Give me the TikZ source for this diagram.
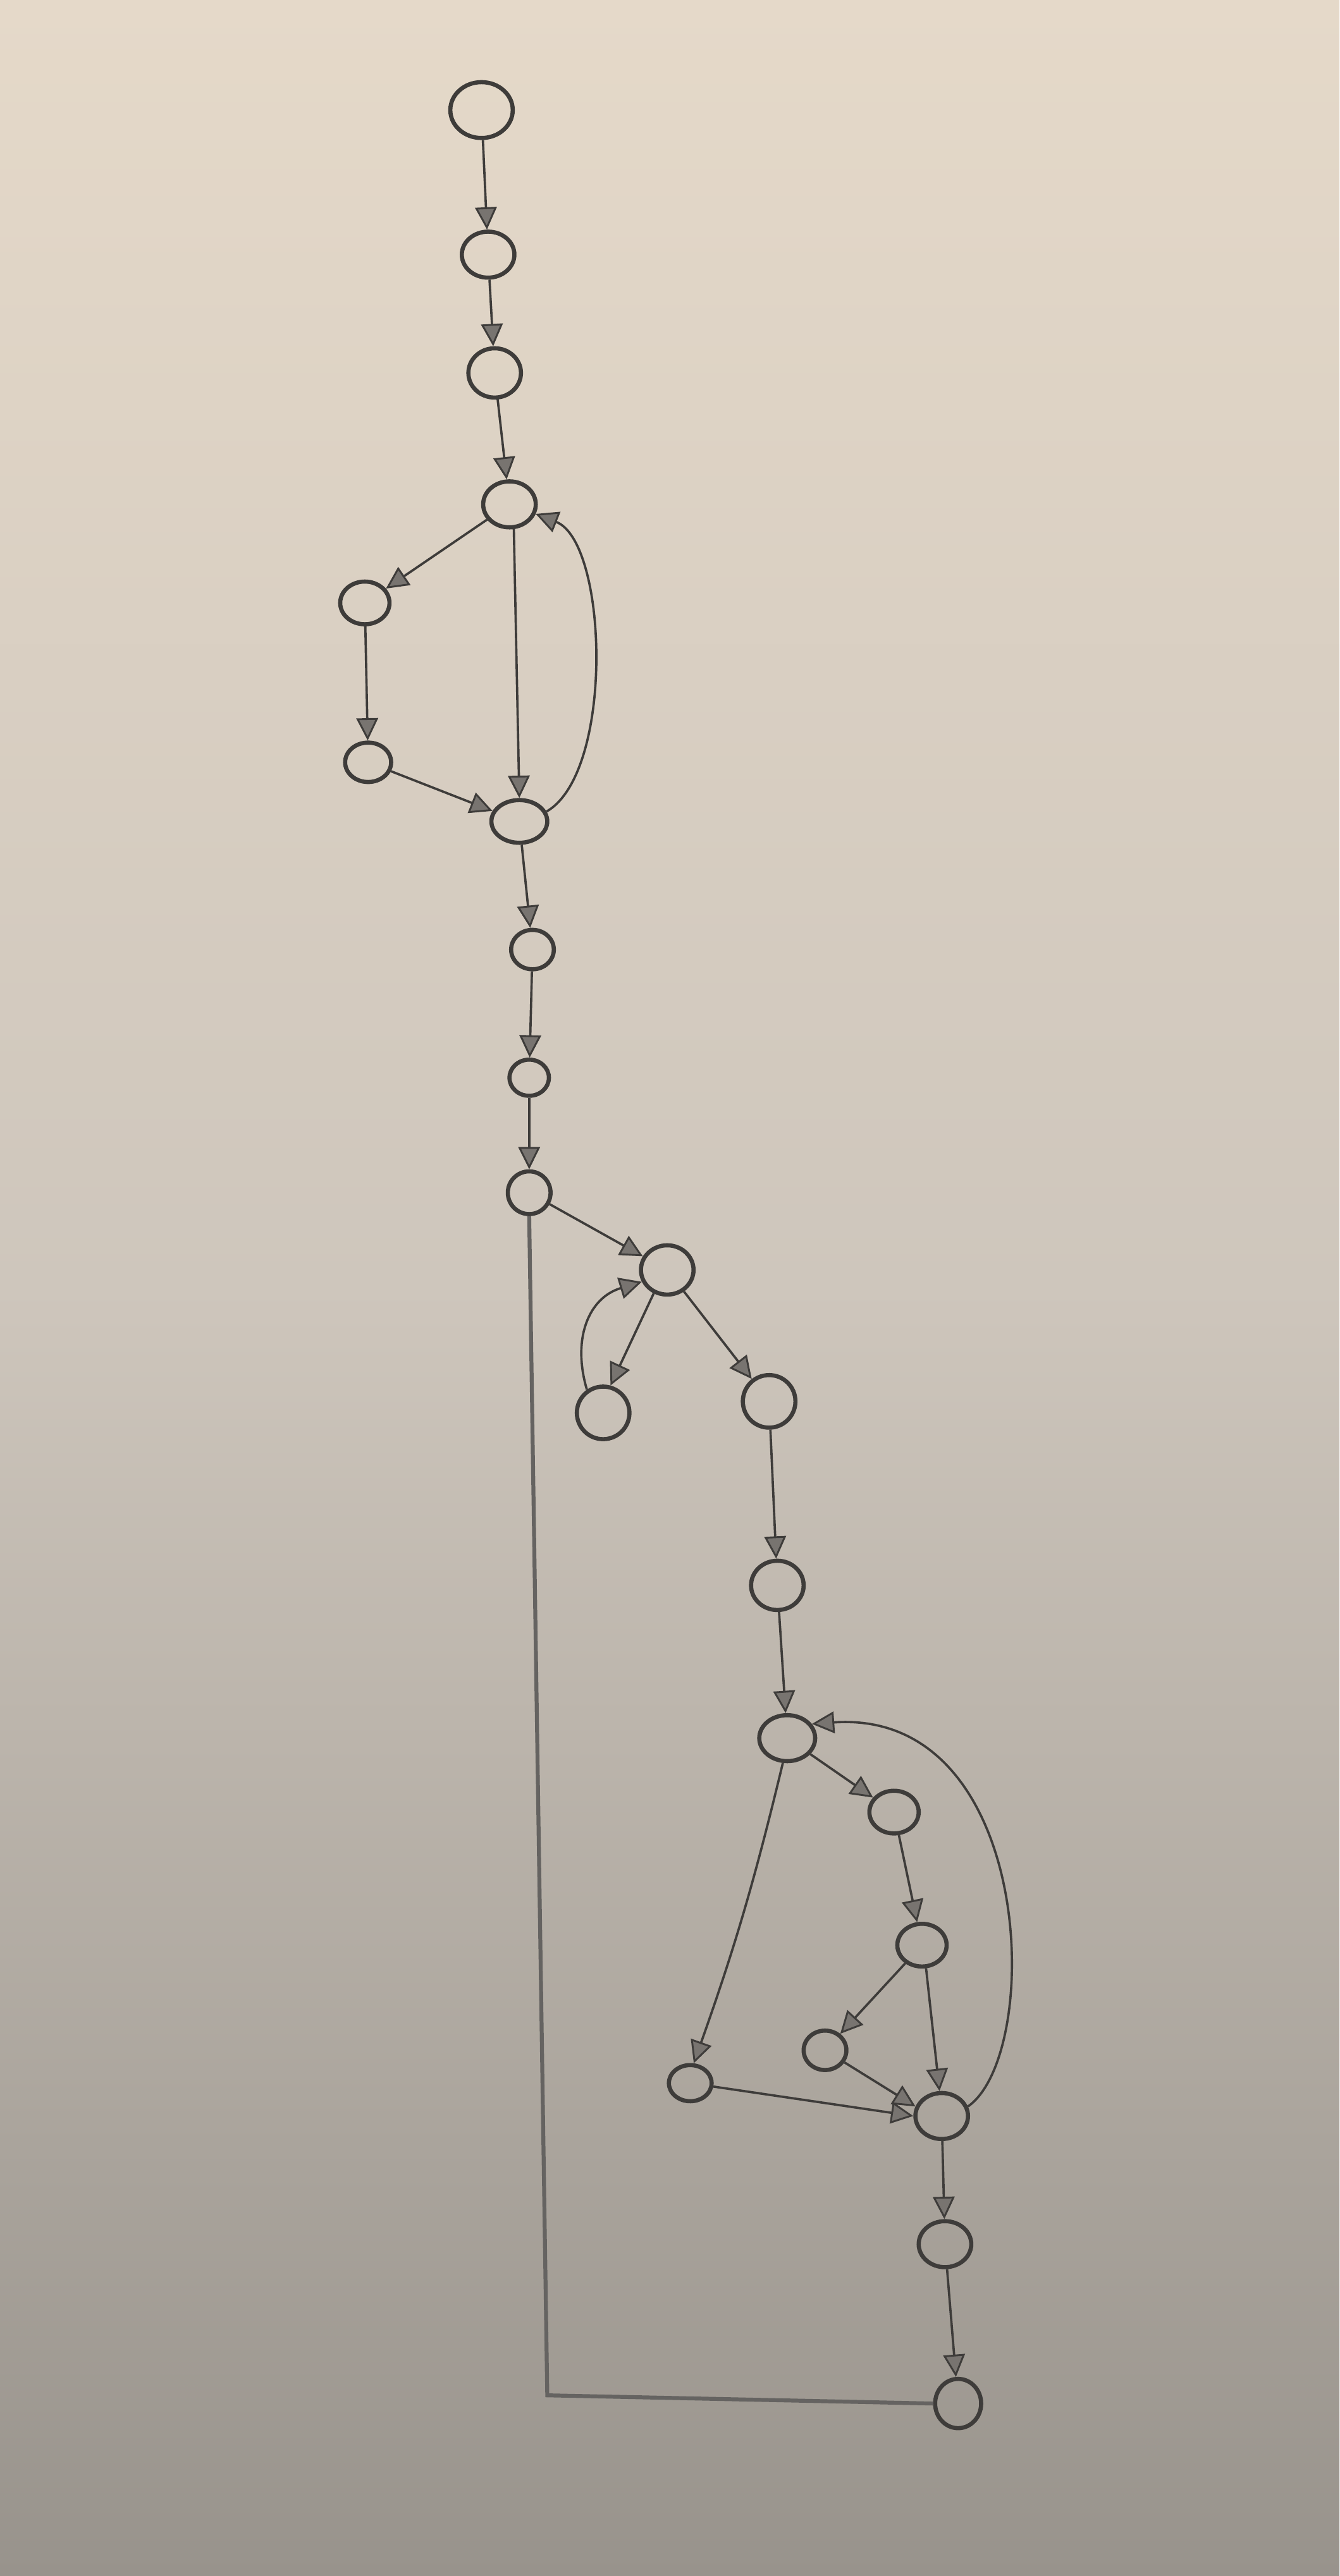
\documentclass[tikz,border=0pt]{standalone}
\usetikzlibrary{shapes.geometric,arrows.meta}
\definecolor{pencil}{RGB}{62,60,58}
\definecolor{tipfill}{RGB}{120,116,112}
\definecolor{bgtop}{RGB}{229,217,201}
\definecolor{bgmid}{RGB}{206,198,188}
\definecolor{bgbot}{RGB}{152,147,140}
\tikzset{
  vtx/.style={ellipse, draw=pencil, line width=3.6pt, inner sep=0pt},
  conn/.style={draw=pencil, line width=2pt,
    -{Triangle[length=0.68cm,width=0.66cm,fill=tipfill,line width=1.6pt]}},
  plain/.style={draw=pencil!80, line width=3.4pt},
}
\begin{document}
\begin{tikzpicture}[x=0.05cm,y=-0.05cm]
\shade[top color=bgtop, bottom color=bgbot, middle color=bgmid] (0,0) rectangle (815,1568);
\useasboundingbox (0,0) rectangle (815,1568);
% nodes
\node[vtx, minimum width=1.9cm, minimum height=1.7cm] (n1) at (293,67) {};
\node[vtx, minimum width=1.6cm, minimum height=1.4cm] (n2) at (297,155) {};
\node[vtx, minimum width=1.6cm, minimum height=1.5cm] (n3) at (301,227) {};
\node[vtx, minimum width=1.6cm, minimum height=1.4cm] (n4) at (310,307) {};
\node[vtx, minimum width=1.5cm, minimum height=1.3cm] (n5) at (222,367) {};
\node[vtx, minimum width=1.4cm, minimum height=1.2cm] (n6) at (224,464) {};
\node[vtx, minimum width=1.7cm, minimum height=1.3cm] (n7) at (316,500) {};
\node[vtx, minimum width=1.3cm, minimum height=1.2cm] (n8) at (324,578) {};
\node[vtx, minimum width=1.2cm, minimum height=1.1cm] (n9) at (322,656) {};
\node[vtx, minimum width=1.3cm, minimum height=1.3cm] (n10) at (322,726) {};
\node[vtx, minimum width=1.6cm, minimum height=1.5cm] (n11) at (406,773) {};
\node[vtx, minimum width=1.6cm, minimum height=1.6cm] (n12) at (367,860) {};
\node[vtx, minimum width=1.6cm, minimum height=1.6cm] (n13) at (468,853) {};
\node[vtx, minimum width=1.6cm, minimum height=1.5cm] (n14) at (473,965) {};
\node[vtx, minimum width=1.7cm, minimum height=1.4cm] (n15) at (479,1058) {};
\node[vtx, minimum width=1.5cm, minimum height=1.3cm] (n16) at (544,1103) {};
\node[vtx, minimum width=1.5cm, minimum height=1.3cm] (n17) at (561,1184) {};
\node[vtx, minimum width=1.3cm, minimum height=1.2cm] (n18) at (502,1248) {};
\node[vtx, minimum width=1.3cm, minimum height=1.1cm] (n19) at (420,1268) {};
\node[vtx, minimum width=1.6cm, minimum height=1.4cm] (n20) at (573,1288) {};
\node[vtx, minimum width=1.6cm, minimum height=1.4cm] (n21) at (575,1366) {};
\node[vtx, minimum width=1.4cm, minimum height=1.5cm] (n22) at (583,1463) {};
\coordinate (corner) at (333,1458);
% connectors
\draw[conn] (n1) -- (n2);
\draw[conn] (n2) -- (n3);
\draw[conn] (n3) -- (n4);
\draw[conn] (n4) -- (n5);
\draw[conn] (n5) -- (n6);
\draw[conn] (n6) -- (n7);
\draw[conn] (n4.-80) -- (n7.90);
\draw[conn] (n7.20) .. controls (374,470) and (370,330) .. (n4.-20);
\draw[conn] (n7) -- (n8);
\draw[conn] (n8) -- (n9);
\draw[conn] (n9) -- (n10);
\draw[conn] (n10) -- (n11);
\draw[conn] (n11.-120) -- (n12.75);
\draw[conn] (n12.125) .. controls (348,815) and (358,790) .. (n11.-155);
\draw[conn] (n11) -- (n13);
\draw[conn] (n13) -- (n14);
\draw[conn] (n14) -- (n15);
\draw[conn] (n15) -- (n16);
\draw[conn] (n15.-100) to[bend left=3] (n19.80);
\draw[conn] (n16) -- (n17);
\draw[conn] (n17) -- (n18);
\draw[conn] (n17.-80) -- (n20.95);
\draw[conn] (n18) -- (n20.160);
\draw[conn] (n19) -- (n20.180);
\draw[conn] (n20.20) .. controls (635,1250) and (630,1040) .. (n15.30);
\draw[conn] (n20) -- (n21);
\draw[conn] (n21) -- (n22);
\draw[plain] (n10.-90) -- (corner) -- (n22.180);
\end{tikzpicture}
\end{document}
